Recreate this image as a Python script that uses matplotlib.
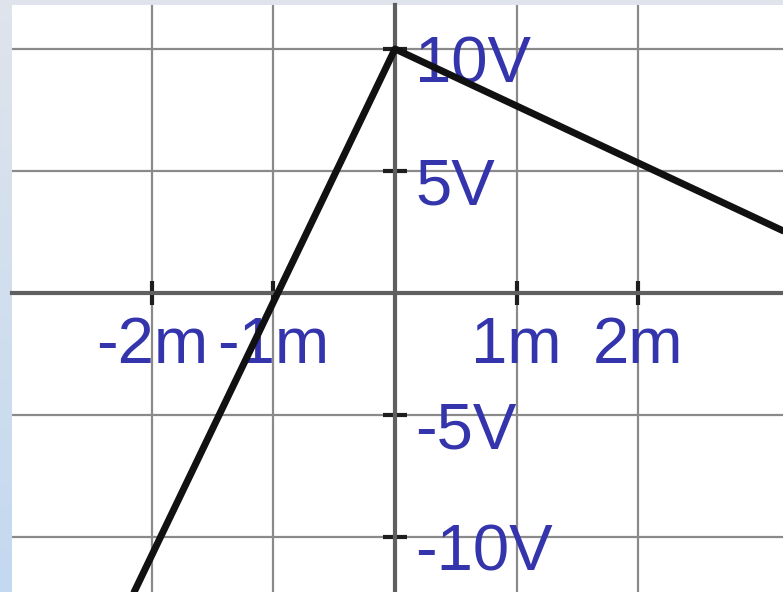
import numpy as np
import matplotlib
matplotlib.use('Agg')
from matplotlib import pyplot as plt
from matplotlib import transforms as mtransforms

# waveform corners (time in ms, voltage in V)
time_ms = [-2.2, 0.0, 3.3]
volts = [-12.8, 10.0, 2.3]

x_ticks = [-2, -1, 1, 2]
x_labels = ['-2m', '-1m', '1m', '2m']
y_ticks = [-10, -5, 5, 10]
y_labels = ['-10V', '-5V', '5V', '10V']

plt.rcParams['font.family'] = ['Liberation Sans', 'DejaVu Sans']

fig = plt.figure(figsize=(7.83, 5.92), dpi=100)

# light blue-grey backdrop behind the plot
bg = fig.add_axes([0, 0, 1, 1], zorder=0)
grad = np.linspace(0, 1, 256).reshape(-1, 1)
top = np.array([0xdf, 0xe4, 0xec]) / 255
bot = np.array([0xc3, 0xd9, 0xf0]) / 255
img = top + (bot - top) * grad[:, :, None]
bg.imshow(img, aspect='auto', extent=[0, 1, 0, 1])
bg.axis('off')

ax = fig.add_axes([12 / 783, 0, 771 / 783, 587 / 592], zorder=1)
ax.set_facecolor('white')

ax.plot(time_ms, volts, color='#111111', linewidth=5, solid_capstyle='butt', zorder=4)

ax.set_xlim(-3.152, 3.193)
ax.set_ylim(-12.25, 11.80)

# axes through the origin
ax.spines['bottom'].set_position(('data', 0))
ax.spines['right'].set_position(('data', 0))
ax.spines['top'].set_visible(False)
ax.spines['left'].set_visible(False)
for s in ['bottom', 'right']:
    ax.spines[s].set_color('#5f5f5f')
    ax.spines[s].set_linewidth(3)
    ax.spines[s].set_zorder(1.5)
ax.yaxis.set_ticks_position('right')
ax.xaxis.set_zorder(3)
ax.yaxis.set_zorder(3)

ax.set_xticks(x_ticks)
ax.set_xticklabels(x_labels)
ax.set_yticks(y_ticks)
ax.set_yticklabels(y_labels)

ax.tick_params(direction='inout', length=17, width=3, color='#1e1e1e',
               labelsize=47, labelcolor='#3434ac')
ax.tick_params(axis='x', pad=8)
ax.tick_params(axis='y', pad=6)

# y labels sit a little below their ticks
shift = mtransforms.ScaledTranslation(0, -10 / 100, fig.dpi_scale_trans)
for lab in ax.get_yticklabels():
    lab.set_transform(lab.get_transform() + shift)

ax.grid(True, color='#8a8a8a', linewidth=1.6)
ax.set_axisbelow(True)

fig.savefig('out.png', dpi=100)
